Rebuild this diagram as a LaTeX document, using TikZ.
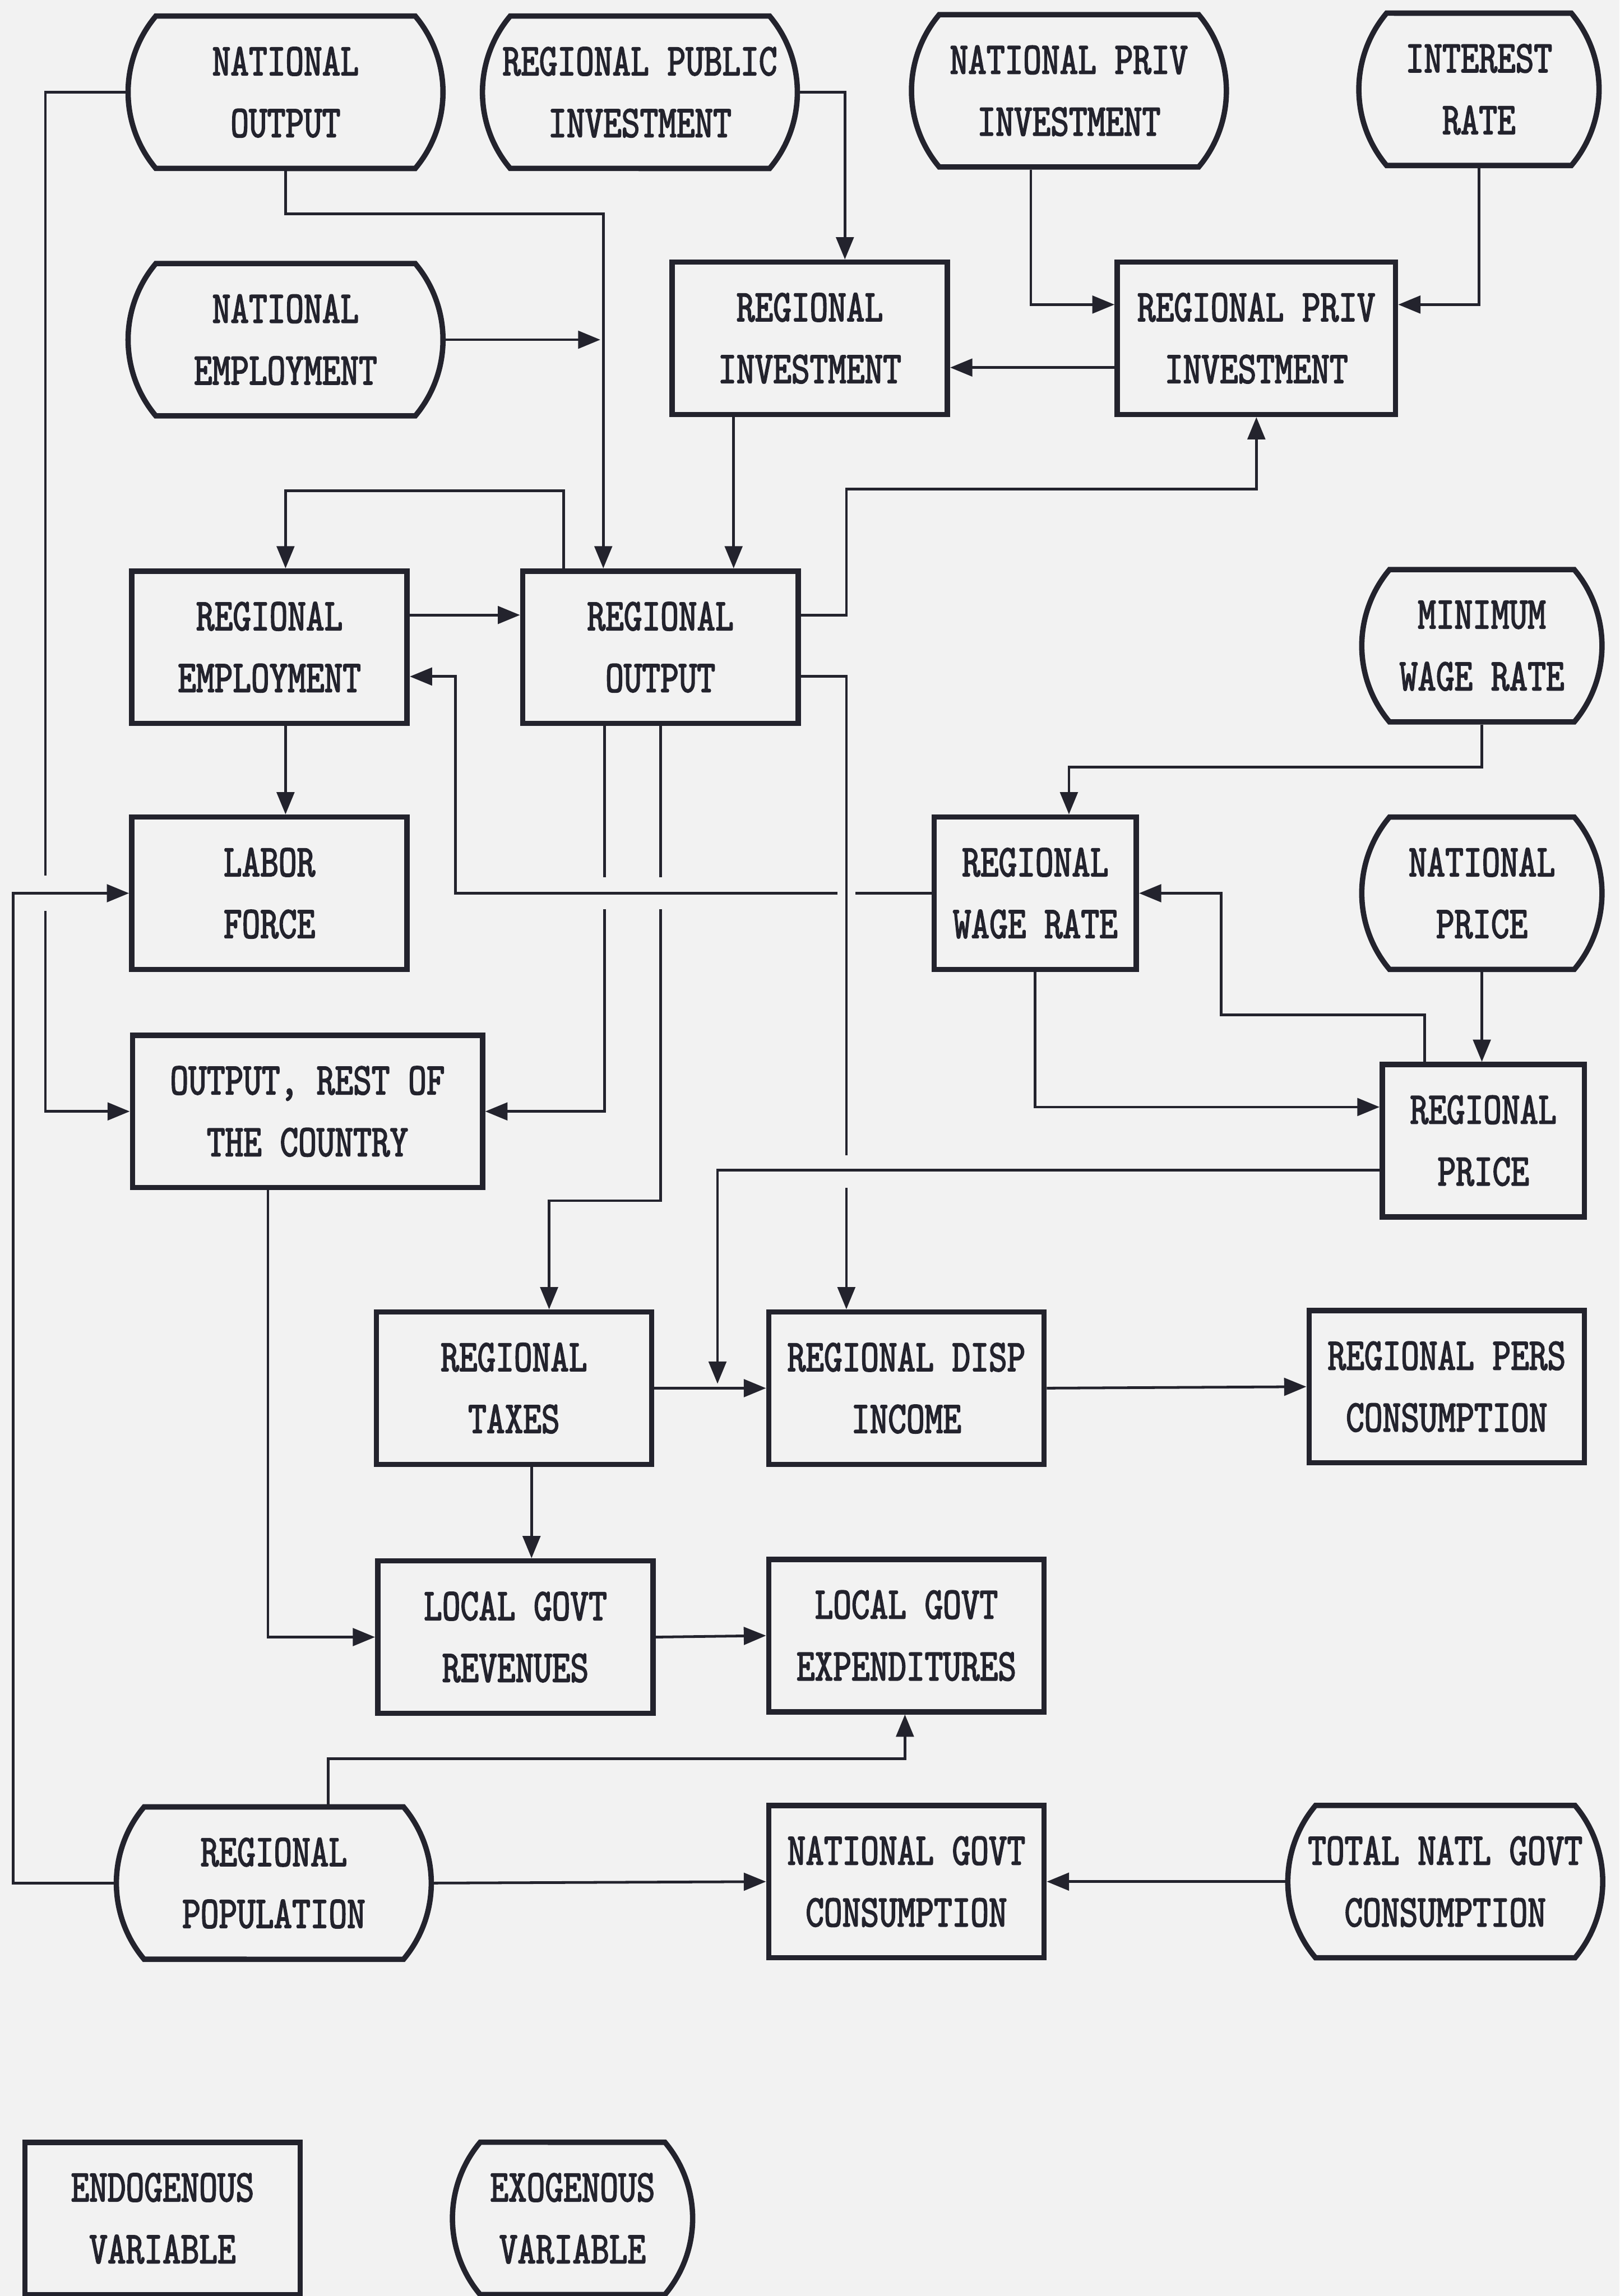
\documentclass[tikz,border=0pt]{standalone}
\usepackage{fontspec}
\usepackage{tikz}
\usetikzlibrary{positioning, shapes.misc, arrows.meta}

\newfontfamily\printfont[FakeStretch = 0.77, FakeBold = 2.2]{lmmono10-regular.otf}
\definecolor{paper}{gray}{0.95}
\definecolor{ink}{RGB}{35,35,45}

\tikzset{
    endo/.style = {shape = rectangle, draw = ink, line width = 2.6pt, fill = paper,
        minimum width = 4.7cm, minimum height = 2.6cm, inner sep = 0pt, align = center,
        font = \printfont\fontsize{22}{30}\selectfont, text = ink},
    exo/.style = {endo, rounded rectangle, rounded rectangle arc length = 80,
        minimum width = 5.375cm},
    narrow/.style = {minimum width = 4.1cm},
    link/.style = {draw = ink, line width = 1.3pt, -{Triangle[length = 0.38cm, width = 0.3cm]}}
}

\begin{document}
\begin{tikzpicture}[x = 0.025cm, y = -0.025cm]
            \fill [paper] (0, 0) rectangle (1106, 1568);
            \useasboundingbox (0, 0) rectangle (1106, 1568);

            % exogenous inputs
            \node [exo] (natout) at (195, 63) {NATIONAL\\OUTPUT};
            \node [exo] (regpub) at (437, 63) {REGIONAL PUBLIC\\INVESTMENT};
            \node [exo] (natpriv) at (730, 62) {NATIONAL PRIV\\INVESTMENT};
            \node [exo, narrow] (intrate) at (1010, 61) {INTEREST\\RATE};
            \node [exo] (natemp) at (195, 232) {NATIONAL\\EMPLOYMENT};
            \node [exo, narrow] (minwage) at (1012, 441) {MINIMUM\\WAGE RATE};
            \node [exo, narrow] (natprice) at (1012, 610) {NATIONAL\\PRICE};
            \node [exo] (regpop) at (187, 1286) {REGIONAL\\POPULATION};
            \node [exo] (totgov) at (987, 1285) {TOTAL NATL GOVT\\CONSUMPTION};

            % endogenous variables
            \node [endo] (reginv) at (553, 231) {REGIONAL\\INVESTMENT};
            \node [endo, minimum width = 4.75cm] (regpriv) at (858, 231) {REGIONAL PRIV\\INVESTMENT};
            \node [endo] (regemp) at (184, 442) {REGIONAL\\EMPLOYMENT};
            \node [endo] (regout) at (451, 442) {REGIONAL\\OUTPUT};
            \node [endo] (labor) at (184, 610) {LABOR\\FORCE};
            \node [endo, minimum width = 3.45cm] (wage) at (707, 610) {REGIONAL\\WAGE RATE};
            \node [endo, minimum width = 5.975cm] (outrest) at (210, 759) {OUTPUT, REST OF\\THE COUNTRY};
            \node [endo, minimum width = 3.45cm] (regprice) at (1013, 779) {REGIONAL\\PRICE};
            \node [endo] (taxes) at (351, 948) {REGIONAL\\TAXES};
            \node [endo] (dispinc) at (619, 948) {REGIONAL DISP\\INCOME};
            \node [endo] (perscons) at (988, 947) {REGIONAL PERS\\CONSUMPTION};
            \node [endo] (revenues) at (352, 1118) {LOCAL GOVT\\REVENUES};
            \node [endo] (expend) at (619, 1117) {LOCAL GOVT\\EXPENDITURES};
            \node [endo] (natgov) at (619, 1285) {NATIONAL GOVT\\CONSUMPTION};

            % legend
            \node [endo] (keyendo) at (111, 1515) {ENDOGENOUS\\VARIABLE};
            \node [exo, narrow] (keyexo) at (391, 1515) {EXOGENOUS\\VARIABLE};

            \coordinate (natjoin) at (410, 232);
            \coordinate (pricejoin) at (490, 945);

            \draw [link] (natout.south) |- (412, 146) -- (regout.north -| 412, 0);
            \draw [link] (natemp.east) -- (natjoin);
            \draw [link] (regpub.east) -| (reginv.north -| 577, 0);
            \draw [link] (natpriv.south -| 704, 0) |- (regpriv.west |- 0, 208);
            \draw [link] (intrate.south) |- (regpriv.east |- 0, 208);
            \draw [link] (regpriv.west |- 0, 251) -- (reginv.east |- 0, 251);
            \draw [link] (reginv.south -| 501, 0) -- (regout.north -| 501, 0);
            \draw [link] (regout.east |- 0, 420) -| (578, 334) -| (regpriv.south);
            \draw [link] (regemp.east |- 0, 420) -- (regout.west |- 0, 420);
            \draw [link] (regout.north -| 385, 0) |- (195, 335) -- (regemp.north -| 195, 0);
            \draw [link] (regemp.south -| 195, 0) -- (labor.north -| 195, 0);
            \draw [link] (minwage.south) |- (730, 524) -- (wage.north -| 730, 0);
            \draw [link] (natprice.south) -- (regprice.north -| natprice.south);
            \draw [link] (regprice.north -| 973, 0) |- (834, 693) |- (wage.east);
            \draw [link] (wage.south) |- (regprice.west |- 0, 756);
            \draw [link] (taxes.east) -- (dispinc.west);
            \draw [link] (dispinc.east) -- (perscons.west);
            \draw [link] (taxes.south -| 363, 0) -- (revenues.north -| 363, 0);
            \draw [link] (outrest.south -| 183, 0) |- (revenues.west);
            \draw [link] (revenues.east) -- (expend.west);
            \draw [link] (regpop.north -| 224, 0) |- (618, 1201) -- (expend.south -| 618, 0);
            \draw [link] (regpop.east) -- (natgov.west);
            \draw [link] (totgov.west) -- (natgov.east);

            % crossings: the lower line gets a gap
            \draw [link] (natout.west) -| (31, 759) -- (outrest.west);
            \fill [paper] (25, 598) rectangle (37, 622);
            \draw [link] (regpop.west) -| (9, 610) -- (labor.west);

            \draw [link] (regout.south -| 413, 0) |- (outrest.east);
            \draw [link] (regout.south) |- (375, 820) -- (taxes.north -| 375, 0);
            \fill [paper] (407, 599) rectangle (419, 621);
            \fill [paper] (445, 599) rectangle (457, 621);
            \draw [link] (wage.west) -| (311, 462) -- (regemp.east |- 0, 462);
            \fill [paper] (572, 603) rectangle (584, 617);
            \draw [link] (regout.east |- 0, 462) -| (dispinc.north -| 578, 0);
            \fill [paper] (572, 789) rectangle (584, 811);
            \draw [link] (regprice.west |- 0, 799) -| (pricejoin);
        \end{tikzpicture}
\end{document}
